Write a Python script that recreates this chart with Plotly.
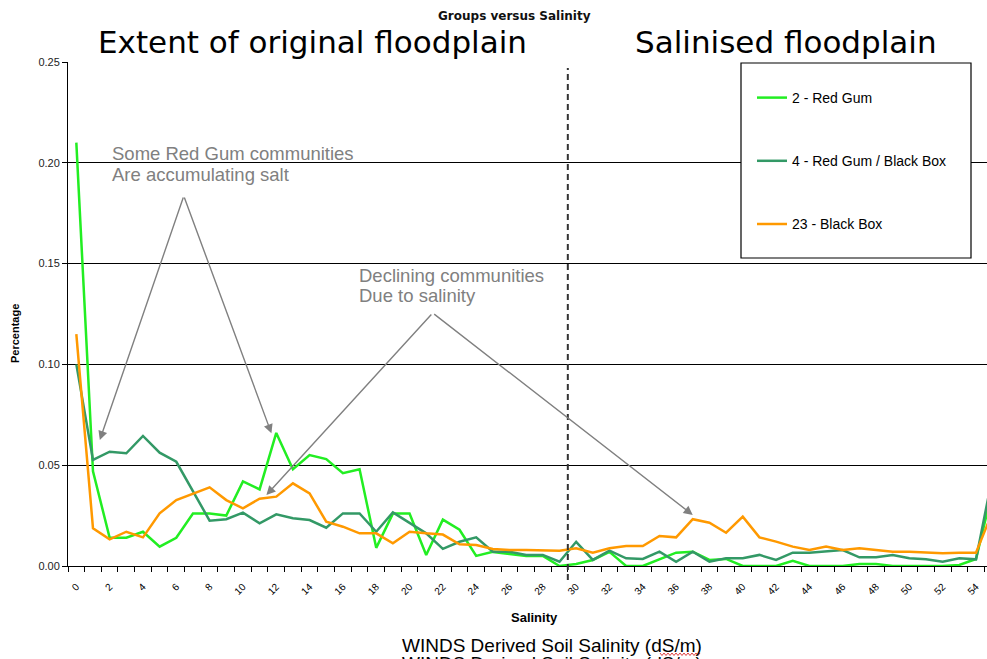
import plotly.graph_objects as go

# Salinity classes (dS/m), one point per class
salinity = list(range(56))

# Share of each vegetation group falling in each salinity class
red_gum = [0.210, 0.047, 0.014, 0.014, 0.017, 0.0096, 0.014, 0.026, 0.026, 0.025,
           0.042, 0.038, 0.066, 0.048, 0.055, 0.053, 0.046, 0.048, 0.009, 0.026,
           0.026, 0.0055, 0.023, 0.018, 0.005, 0.007, 0.006, 0.005, 0.005, 0.0,
           0.001, 0.003, 0.007, 0.0, 0.0, 0.0035, 0.0066, 0.0071, 0.003, 0.0035,
           0.0, 0.0, 0.0, 0.0026, 0.0, 0.0, 0.0, 0.001, 0.001, 0.0,
           0.0, 0.0, 0.0, 0.0005, 0.0035, 0.038]

red_gum_black_box = [0.100, 0.0526, 0.0567, 0.0559, 0.0645, 0.0562, 0.0517, 0.0369, 0.0225, 0.0232,
                     0.0265, 0.0212, 0.0256, 0.0237, 0.0228, 0.019, 0.0261, 0.0261, 0.017, 0.0266,
                     0.0212, 0.0162, 0.0085, 0.012, 0.0142, 0.0071, 0.0071, 0.0055, 0.0055, 0.0021,
                     0.012, 0.003, 0.0076, 0.0038, 0.0035, 0.0071, 0.0021, 0.0071, 0.0021, 0.0038,
                     0.0038, 0.0055, 0.003, 0.0066, 0.0066, 0.0072, 0.0079, 0.0043, 0.0043, 0.0055,
                     0.0038, 0.0033, 0.0021, 0.0038, 0.0033, 0.045]

black_box = [0.115, 0.0187, 0.0132, 0.017, 0.0142, 0.0261, 0.0327, 0.036, 0.039, 0.0327,
             0.0286, 0.0334, 0.0344, 0.041, 0.036, 0.022, 0.0195, 0.0162, 0.0162, 0.0113,
             0.017, 0.0162, 0.0156, 0.0108, 0.0104, 0.0084, 0.0079, 0.0079, 0.0076, 0.0076,
             0.0088, 0.0066, 0.0088, 0.0099, 0.0099, 0.0149, 0.0142, 0.0232, 0.0215, 0.0165,
             0.0245, 0.0142, 0.0121, 0.0096, 0.0079, 0.0096, 0.0079, 0.0088, 0.0079, 0.0071,
             0.0071, 0.0066, 0.0063, 0.0066, 0.0066, 0.027]

series_names = ["2 - Red Gum", "4 - Red Gum / Black Box", "23 - Black Box"]
series_colors = ["#22ee22", "#339966", "#ff9900"]

tick_values = list(range(0, 56, 2))
tick_labels = [str(v) for v in tick_values]
y_ticks = [0.0, 0.05, 0.10, 0.15, 0.20, 0.25]

W, H = 987, 659
L, R, T, B = 68, 0, 62, 93
PW, PH = W - L - R, H - T - B


def px(xp):
    return (xp - L) / PW


def py(yp):
    return (H - B - yp) / PH


fig = go.Figure()
for name, ys, col in zip(series_names, [red_gum, red_gum_black_box, black_box], series_colors):
    fig.add_trace(go.Scatter(
        x=salinity, y=ys, mode="lines", name=name, legendgroup=name,
        line=dict(color=col, width=2.5),
    ))


def label(text, x, y, size, family="Liberation Sans", color="#000", xanchor="left", **kw):
    return dict(text=text, x=px(x), y=py(y), xref="paper", yref="paper",
                xanchor=xanchor, yanchor="middle", showarrow=False,
                font=dict(family=family, size=size, color=color), **kw)


gray = "#808080"
annotations = [
    label("<b>Groups versus Salinity</b>", 514, 16, 12, family="DejaVu Sans", color="#111", xanchor="center"),
    label("Extent of original floodplain", 96, 42, 31, family="DejaVu Sans"),
    label("Salinised floodplain", 633, 42, 31, family="DejaVu Sans"),
    label("<b>Percentage</b>", 15, 334, 11, xanchor="center", textangle=-90),
    label("<b>Salinity</b>", 534, 617, 13, xanchor="center"),
    label("WINDS Derived Soil Salinity (dS/m)", 400, 645, 19),
    label("WINDS Derived Soil Salinity (dS/m)", 400, 663, 19),
    label("Some Red Gum communities", 110, 153, 18.5, color=gray),
    label("Are accumulating salt", 110, 174, 18.5, color=gray),
    label("Declining communities", 357, 275, 18.5, color=gray),
    label("Due to salinity", 357, 295, 18.5, color=gray),
]

# Pointer arrows: (tail x, tail y, head x, head y) in axis units
arrows = [
    (6.45, 0.1835, 1.41, 0.0625),
    (6.45, 0.1835, 11.71, 0.0658),
    (21.39, 0.1255, 11.41, 0.0352),
    (21.39, 0.1255, 37.0, 0.0253),
]
for ax0, ay0, hx, hy in arrows:
    annotations.append(dict(
        x=hx, y=hy, ax=ax0, ay=ay0, xref="x", yref="y", axref="x", ayref="y",
        text="", showarrow=True, arrowhead=2, arrowsize=1.3, arrowwidth=1.4, arrowcolor=gray,
    ))

# Spell-check style squiggle under "dS/m"
pts = []
for i, xx in enumerate(range(660, 702, 2)):
    pts.append(f"{px(xx):.5f},{py(653 if i % 2 == 0 else 655.5):.5f}")
squiggle = "M " + " L ".join(pts)

shapes = [
    # legend frame
    dict(type="rect", xref="paper", yref="paper", x0=px(741), x1=px(971), y0=py(258), y1=py(63),
         line=dict(color="#000", width=1.2), fillcolor="white", layer="above"),
    # boundary of salinised floodplain
    dict(type="line", xref="x", yref="paper", x0=29.5, x1=29.5, y0=py(580), y1=py(68),
         line=dict(color="#333", width=2, dash="6px,4px"), layer="above"),
    dict(type="path", xref="paper", yref="paper", path=squiggle,
         line=dict(color="#e04040", width=1)),
]

fig.update_layout(
    width=W, height=H,
    margin=dict(l=L, r=R, t=T, b=B),
    paper_bgcolor="white", plot_bgcolor="white",
    font=dict(family="Liberation Sans", color="#000"),
    showlegend=True,
    legend=dict(x=px(752), y=py(82), xanchor="left", yanchor="top",
                bgcolor="rgba(0,0,0,0)", borderwidth=0, tracegroupgap=42,
                font=dict(family="Liberation Sans", size=14, color="#000")),
    annotations=annotations,
    shapes=shapes,
    xaxis=dict(
        range=[-0.5, 54.66], tickmode="array", tickvals=tick_values, ticktext=tick_labels,
        tickangle=-45, ticks="", tickfont=dict(size=10, color="#000"),
        showline=True, linecolor="#000", linewidth=1, showgrid=False, zeroline=False,
        ticklabelstandoff=10,
        minor=dict(tick0=-0.5, dtick=1, ticks="outside", ticklen=5, tickcolor="#000", tickwidth=1),
    ),
    yaxis=dict(
        range=[0, 0.25], tickmode="array", tickvals=y_ticks,
        ticktext=[f"{v:.2f}" for v in y_ticks],
        ticks="outside", ticklen=5, tickcolor="#000", tickfont=dict(size=11, color="#222"),
        showline=True, linecolor="#000", linewidth=1,
        showgrid=True, gridcolor="#000", gridwidth=1, zeroline=False,
    ),
)

fig.write_html("out.html")
